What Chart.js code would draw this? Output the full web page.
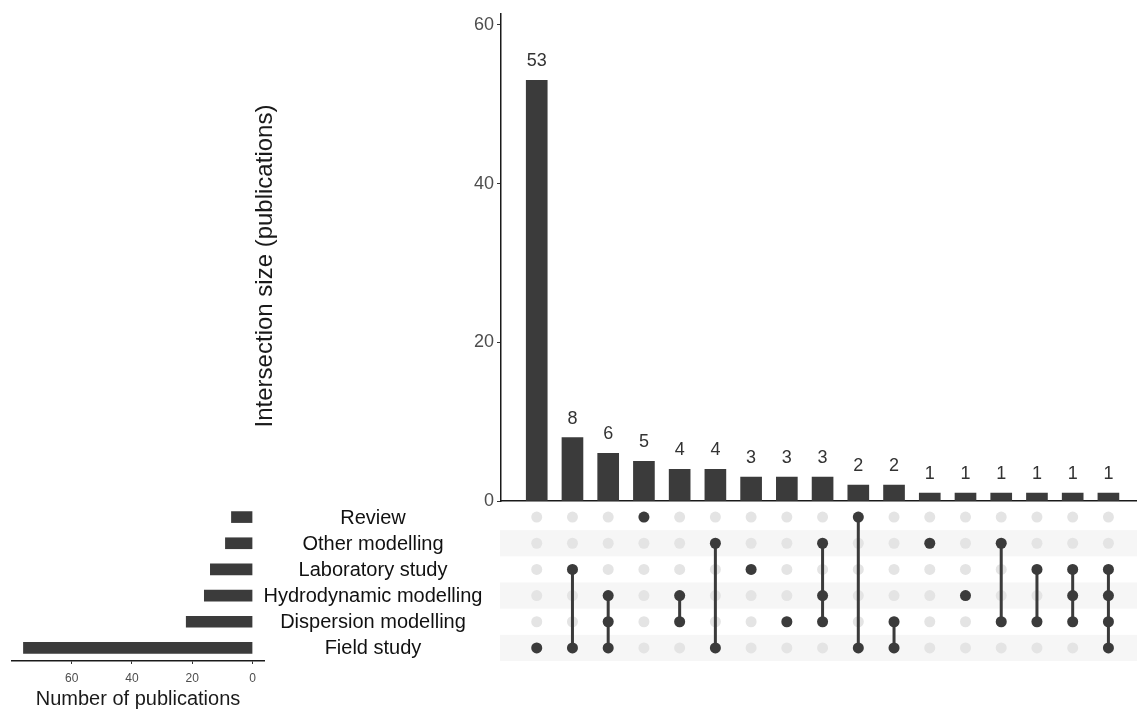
<!DOCTYPE html>
<html>
<head>
<meta charset="utf-8">
<script src="https://cdn.jsdelivr.net/npm/chart.js@4/dist/chart.umd.min.js"></script>
<style>
  html, body { margin: 0; padding: 0; background: #ffffff; }
  #wrap { position: relative; width: 1137px; height: 711px; overflow: hidden; }
  #wrap canvas { position: absolute; left: 0; top: 0; }
</style>
</head>
<body>
<div id="wrap">
  <canvas id="sizes" width="1137" height="711"></canvas>
  <canvas id="matrix" width="1137" height="711"></canvas>
  <canvas id="sets" width="1137" height="711"></canvas>
</div>
<script>
// Study types (matrix rows, top to bottom) and total publications per type
const setNames = ['Review', 'Other modelling', 'Laboratory study', 'Hydrodynamic modelling', 'Dispersion modelling', 'Field study'];
const setSizes = [7, 9, 14, 16, 22, 76];

// Intersections, ordered by size
const intersectionSizes = [53, 8, 6, 5, 4, 4, 3, 3, 3, 2, 2, 1, 1, 1, 1, 1, 1];
const intersectionMembers = [
  ['Field study'],
  ['Laboratory study', 'Field study'],
  ['Hydrodynamic modelling', 'Dispersion modelling', 'Field study'],
  ['Review'],
  ['Hydrodynamic modelling', 'Dispersion modelling'],
  ['Other modelling', 'Field study'],
  ['Laboratory study'],
  ['Dispersion modelling'],
  ['Other modelling', 'Hydrodynamic modelling', 'Dispersion modelling'],
  ['Review', 'Field study'],
  ['Dispersion modelling', 'Field study'],
  ['Other modelling'],
  ['Hydrodynamic modelling'],
  ['Other modelling', 'Dispersion modelling'],
  ['Laboratory study', 'Dispersion modelling'],
  ['Laboratory study', 'Hydrodynamic modelling', 'Dispersion modelling'],
  ['Laboratory study', 'Hydrodynamic modelling', 'Dispersion modelling', 'Field study']
];

// Axis ticks
const intersectionTicks = [0, 20, 40, 60];
const setSizeTicks = [0, 20, 40, 60];

const FONT = "'Liberation Sans', Arial, Helvetica, sans-serif";
const DARK = '#3b3b3b';
const AXIS_TEXT = '#4d4d4d';
const W = 1137, H = 711;

Chart.defaults.font.family = FONT;
Chart.defaults.animation = false;
Chart.defaults.plugins.legend.display = false;
Chart.defaults.plugins.tooltip.enabled = false;
Chart.defaults.events = [];

const colX = intersectionSizes.map((_, i) => i + 1);
const X_MAX = 17.8;

// ---------- Intersection size bars ----------
const barLabels = {
  id: 'barLabels',
  afterDatasetsDraw(chart) {
    const ctx = chart.ctx;
    const meta = chart.getDatasetMeta(0);
    ctx.save();
    ctx.font = '18px ' + FONT;
    ctx.fillStyle = '#333333';
    ctx.textAlign = 'center';
    ctx.textBaseline = 'alphabetic';
    meta.data.forEach((el, i) => {
      ctx.fillText(String(intersectionSizes[i]), el.x, el.y - 14);
    });
    // y axis title
    ctx.translate(265, 266);
    ctx.rotate(-Math.PI / 2);
    ctx.font = '24px ' + FONT;
    ctx.fillStyle = '#1a1a1a';
    ctx.textBaseline = 'middle';
    ctx.fillText('Intersection size (publications)', 0, 0);
    ctx.restore();
  }
};

new Chart(document.getElementById('sizes'), {
  type: 'bar',
  data: {
    datasets: [{
      data: intersectionSizes.map((v, i) => ({ x: colX[i], y: v })),
      backgroundColor: DARK,
      barThickness: 21
    }]
  },
  options: {
    responsive: false,
    devicePixelRatio: 1,
    layout: { autoPadding: false, padding: { left: 0, top: 12, right: 0, bottom: H - 501 } },
    scales: {
      x: {
        type: 'linear', min: 0, max: X_MAX, offset: false,
        grid: { display: false, drawTicks: false },
        border: { display: true, color: '#1a1a1a', width: 1.5 },
        ticks: { display: false },
        afterFit(s) { s.height = 0; }
      },
      y: {
        min: 0, max: 61.4,
        afterBuildTicks(s) { s.ticks = intersectionTicks.map(v => ({ value: v })); },
        grid: { drawOnChartArea: false, tickLength: 4, color: '#333333' },
        border: { display: true, color: '#1a1a1a', width: 1.5 },
        ticks: { font: { size: 18 }, color: AXIS_TEXT, padding: 3 },
        afterFit(s) { s.width = 501; }
      }
    }
  },
  plugins: [barLabels]
});

// ---------- Membership matrix ----------
const rowOf = name => setNames.indexOf(name);

const greyDots = [];
colX.forEach(x => setNames.forEach((_, r) => greyDots.push({ x: x, y: r + 0.5 })));

const darkDots = [];
const links = [];
intersectionMembers.forEach((members, i) => {
  const rows = members.map(rowOf);
  rows.forEach(r => darkDots.push({ x: colX[i], y: r + 0.5 }));
  if (rows.length > 1) {
    links.push({
      type: 'line',
      data: [{ x: colX[i], y: Math.min(...rows) + 0.5 }, { x: colX[i], y: Math.max(...rows) + 0.5 }],
      borderColor: DARK,
      borderWidth: 3,
      pointRadius: 0,
      showLine: true,
      order: 1
    });
  }
});

const rowStripes = {
  id: 'rowStripes',
  beforeDatasetsDraw(chart) {
    const { ctx, chartArea, scales } = chart;
    ctx.save();
    ctx.fillStyle = '#f6f6f6';
    setNames.forEach((_, r) => {
      if (r % 2 === 1) {
        const y0 = scales.y.getPixelForValue(r);
        const y1 = scales.y.getPixelForValue(r + 1);
        ctx.fillRect(chartArea.left - 1, y0, chart.width - chartArea.left + 1, y1 - y0);
      }
    });
    ctx.restore();
  }
};

new Chart(document.getElementById('matrix'), {
  type: 'scatter',
  data: {
    datasets: [
      { data: darkDots, backgroundColor: DARK, borderWidth: 0, pointRadius: 5.5, order: 0 },
      ...links,
      { data: greyDots, backgroundColor: '#e4e4e4', borderWidth: 0, pointRadius: 5.5, order: 2 }
    ]
  },
  options: {
    responsive: false,
    devicePixelRatio: 1,
    layout: { autoPadding: false, padding: { left: 501, top: 504, right: 0, bottom: H - 661 } },
    scales: {
      x: { type: 'linear', min: 0, max: X_MAX, display: false },
      y: { type: 'linear', min: 0, max: setNames.length, reverse: true, display: false }
    }
  },
  plugins: [rowStripes]
});

// ---------- Set sizes ----------
const setLabels = {
  id: 'setLabels',
  afterDatasetsDraw(chart) {
    const ctx = chart.ctx;
    const ys = chart.scales.y;
    ctx.save();
    ctx.font = '20px ' + FONT;
    ctx.fillStyle = '#111111';
    ctx.textAlign = 'center';
    ctx.textBaseline = 'middle';
    setNames.forEach((name, i) => ctx.fillText(name, 373, ys.getPixelForValue(i) + 1));
    // x axis title
    ctx.fillStyle = '#1a1a1a';
    ctx.fillText('Number of publications', 138, 699);
    ctx.restore();
  }
};

new Chart(document.getElementById('sets'), {
  type: 'bar',
  data: {
    labels: setNames,
    datasets: [{ data: setSizes, backgroundColor: DARK, barThickness: 11 }]
  },
  options: {
    indexAxis: 'y',
    responsive: false,
    devicePixelRatio: 1,
    layout: { autoPadding: false, padding: { left: 12, top: 504, right: W - 264, bottom: 0 } },
    scales: {
      y: { type: 'category', display: false },
      x: {
        type: 'linear', min: -3.8, max: 79.8, reverse: true,
        afterBuildTicks(s) { s.ticks = setSizeTicks.map(v => ({ value: v })); },
        grid: { drawOnChartArea: false, tickLength: 3, color: '#333333' },
        border: { display: true, color: '#1a1a1a', width: 1.5 },
        ticks: { font: { size: 12 }, color: AXIS_TEXT, padding: 7, maxRotation: 0 },
        afterFit(s) { s.height = H - 661; }
      }
    }
  },
  plugins: [setLabels]
});
</script>
</body>
</html>
